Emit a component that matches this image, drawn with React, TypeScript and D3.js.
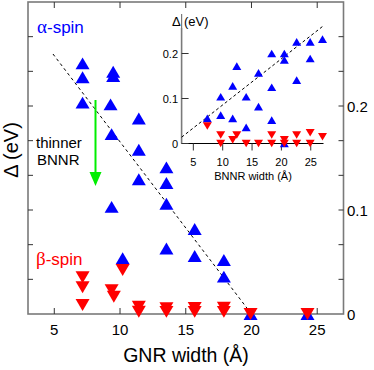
import React from 'react';
import * as d3 from 'd3';

// main panel: gap vs GNR width
const alphaX = [7.15, 7.15, 7.15, 9.48, 9.48, 9.28, 11.43, 9.36, 11.43, 13.53, 11.43, 13.53, 9.36, 13.53, 13.53, 10.2, 15.68, 15.68, 17.9, 17.9, 19.93, 24.26];
const alphaY = [0.241, 0.2276, 0.2032, 0.233, 0.2288, 0.2016, 0.188, 0.173, 0.158, 0.141, 0.1295, 0.126, 0.103, 0.106, 0.063, 0.0536, 0.0817, 0.0558, 0.0519, 0.0359, 0.0, 0.0];
const betaX = [7.15, 7.15, 7.15, 9.36, 9.53, 10.2, 11.43, 11.43, 13.53, 13.53, 15.68, 15.68, 17.9, 17.9, 19.93, 24.26];
const betaY = [0.0353, 0.0257, 0.0087, 0.023, 0.0166, 0.0423, 0.007, 0.0022, 0.0055, 0.002, 0.0058, 0.002, 0.006, 0.002, 0.0, 0.0];
const fitMain = [[4.9, 0.25], [20, 0]];
const xTicks = [5, 10, 15, 20, 25];
const yLabelTicks = [0, 0.1, 0.2];
const yMinorTicks = [1, 2, 3, 4, 5, 6, 7, 8].map(k => (k * 0.1) / 3);

// inset: gap vs BNNR width
const inAlphaX = [7.38, 9.66, 9.66, 11.7, 11.7, 12.4, 14.0, 14.0, 16.1, 16.1, 18.35, 18.35, 18.35, 20.5, 20.5, 20.5, 22.6, 22.6, 24.9, 24.9, 27.0];
const inAlphaY = [0.056, 0.104, 0.063, 0.056, 0.128, 0.172, 0.104, 0.036, 0.157, 0.082, 0.2, 0.125, 0.052, 0.2, 0.186, 0.0, 0.226, 0.141, 0.226, 0.189, 0.232];
const inBetaX = [7.38, 9.66, 9.66, 11.7, 12.4, 14.0, 16.1, 18.35, 18.35, 20.5, 20.5, 22.6, 22.6, 24.9, 24.9, 27.0];
const inBetaY = [0.039, 0.019, 0.0, 0.008, 0.019, 0.0, 0.0, 0.019, 0.0, 0.008, 0.0, 0.019, 0.0, 0.024, 0.0, 0.015];
const inFit = [[3, 0.014], [27, 0.26]];
const inXTicks = [5, 10, 15, 20, 25];
const inYTicks = [0, 0.1, 0.2];

const FONT = 'Liberation Sans, Arial, sans-serif';
const SERIF = 'Liberation Serif, Times New Roman, serif';
const BLUE = '#0000ff';
const RED = '#ff0000';
const FRAME = '#7a7a7a';

const up = (s: number) => `M0,${-s * 0.85}L${s},${s * 0.85}L${-s},${s * 0.85}Z`;
const down = (s: number) => `M${-s},${-s * 0.85}L${s},${-s * 0.85}L0,${s * 0.85}Z`;

export default function App() {
  // main scales
  const x = d3.scaleLinear().domain([3, 27]).range([28, 343.5]);
  const y = d3.scaleLinear().domain([0, 0.3]).range([314, 2]);
  // inset scales
  const ix = d3.scaleLinear().domain([3, 27]).range([181.6, 322.5]);
  const iy = d3.scaleLinear().domain([0, 0.1]).range([143.5, 98.5]);
  const line = d3.line<number[]>();

  return (
    <svg width={374} height={370} style={{ position: 'absolute', left: 0, top: 0, background: '#fff' }} fontFamily={FONT}>
      {/* main frame */}
      <rect x={x(3)} y={y(0.3)} width={x(27) - x(3)} height={y(0) - y(0.3)} fill="none" stroke={FRAME} strokeWidth={1.6} />
      {xTicks.map(t => (
        <g key={'xt' + t}>
          <line x1={x(t)} x2={x(t)} y1={y(0)} y2={y(0) - 6} stroke="#333" strokeWidth={1} />
          <line x1={x(t)} x2={x(t)} y1={y(0.3)} y2={y(0.3) + 6} stroke="#333" strokeWidth={1} />
          <text x={x(t)} y={335} fontSize={15} textAnchor="middle">{t}</text>
        </g>
      ))}
      {yMinorTicks.map((t, i) => (
        <g key={'yt' + i}>
          <line x1={x(3)} x2={x(3) + 5} y1={y(t)} y2={y(t)} stroke="#333" strokeWidth={1} />
          <line x1={x(27)} x2={x(27) - 5} y1={y(t)} y2={y(t)} stroke="#333" strokeWidth={1} />
        </g>
      ))}
      {yLabelTicks.map(t => (
        <text key={'yl' + t} x={347} y={y(t) + 5.5} fontSize={15}>{t}</text>
      ))}
      <text x={186} y={362} fontSize={19.5} textAnchor="middle">GNR width (Å)</text>
      <text transform="translate(18,150) rotate(-90)" fontSize={20} textAnchor="middle">Δ (eV)</text>

      <path d={line(fitMain.map(d => [x(d[0]), y(d[1])])) || ''} fill="none" stroke="#000" strokeWidth={1} strokeDasharray="3,3" />

      {alphaX.map((v, i) => (
        <path key={'a' + i} d={up(7)} transform={`translate(${x(v)},${y(alphaY[i])})`} fill={BLUE} />
      ))}
      {betaX.map((v, i) => (
        <path key={'b' + i} d={down(7)} transform={`translate(${x(v)},${y(betaY[i])})`} fill={RED} />
      ))}

      <text x={37} y={33} fontSize={17} fill={BLUE}><tspan fontFamily={SERIF} fontSize={19}>α</tspan>-spin</text>
      <text x={36} y={265} fontSize={17} fill={RED}><tspan fontFamily={SERIF} fontSize={19}>β</tspan>-spin</text>
      <text x={36} y={148} fontSize={15}>thinner</text>
      <text x={37} y={165} fontSize={15}>BNNR</text>
      <line x1={95.5} x2={95.5} y1={100} y2={174} stroke="#00ee00" strokeWidth={2} />
      <path d="M89.5,172L101.5,172L95.5,186Z" fill="#00ee00" />

      {/* inset */}
      <line x1={ix(3)} x2={ix(3)} y1={15} y2={iy(0)} stroke={FRAME} strokeWidth={1.6} />
      <line x1={ix(3)} x2={ix(27) + 1} y1={iy(0)} y2={iy(0)} stroke="#000" strokeWidth={1.2} />
      {inYTicks.map(t => (
        <g key={'iyt' + t}>
          <line x1={ix(3)} x2={ix(3) + 7} y1={iy(t)} y2={iy(t)} stroke="#333" strokeWidth={1} />
          <text x={178} y={iy(t) + 4} fontSize={11} textAnchor="end">{t}</text>
        </g>
      ))}
      {inXTicks.map(t => (
        <g key={'ixt' + t}>
          <line x1={ix(t)} x2={ix(t)} y1={iy(0)} y2={iy(0) + 7} stroke="#333" strokeWidth={1} />
          <text x={ix(t)} y={166} fontSize={11} textAnchor="middle">{t}</text>
        </g>
      ))}
      <text x={253} y={180} fontSize={11} textAnchor="middle">BNNR width (Å)</text>
      <rect x={179} y={12} width={6} height={16} fill="#fff" />
      <text x={172} y={26} fontSize={13}>Δ</text>
      <line x1={ix(3)} x2={ix(3)} y1={14} y2={28} stroke={FRAME} strokeWidth={1.2} />
      <text x={184} y={26} fontSize={13}>(eV)</text>

      <path d={line(inFit.map(d => [ix(d[0]), iy(d[1])])) || ''} fill="none" stroke="#000" strokeWidth={1} strokeDasharray="3,2.5" />
      {inAlphaX.map((v, i) => (
        <path key={'ia' + i} d={up(4.5)} transform={`translate(${ix(v)},${iy(inAlphaY[i])})`} fill={BLUE} />
      ))}
      {inBetaX.map((v, i) => (
        <path key={'ib' + i} d={down(4.5)} transform={`translate(${ix(v)},${iy(inBetaY[i])})`} fill={RED} />
      ))}
    </svg>
  );
}
